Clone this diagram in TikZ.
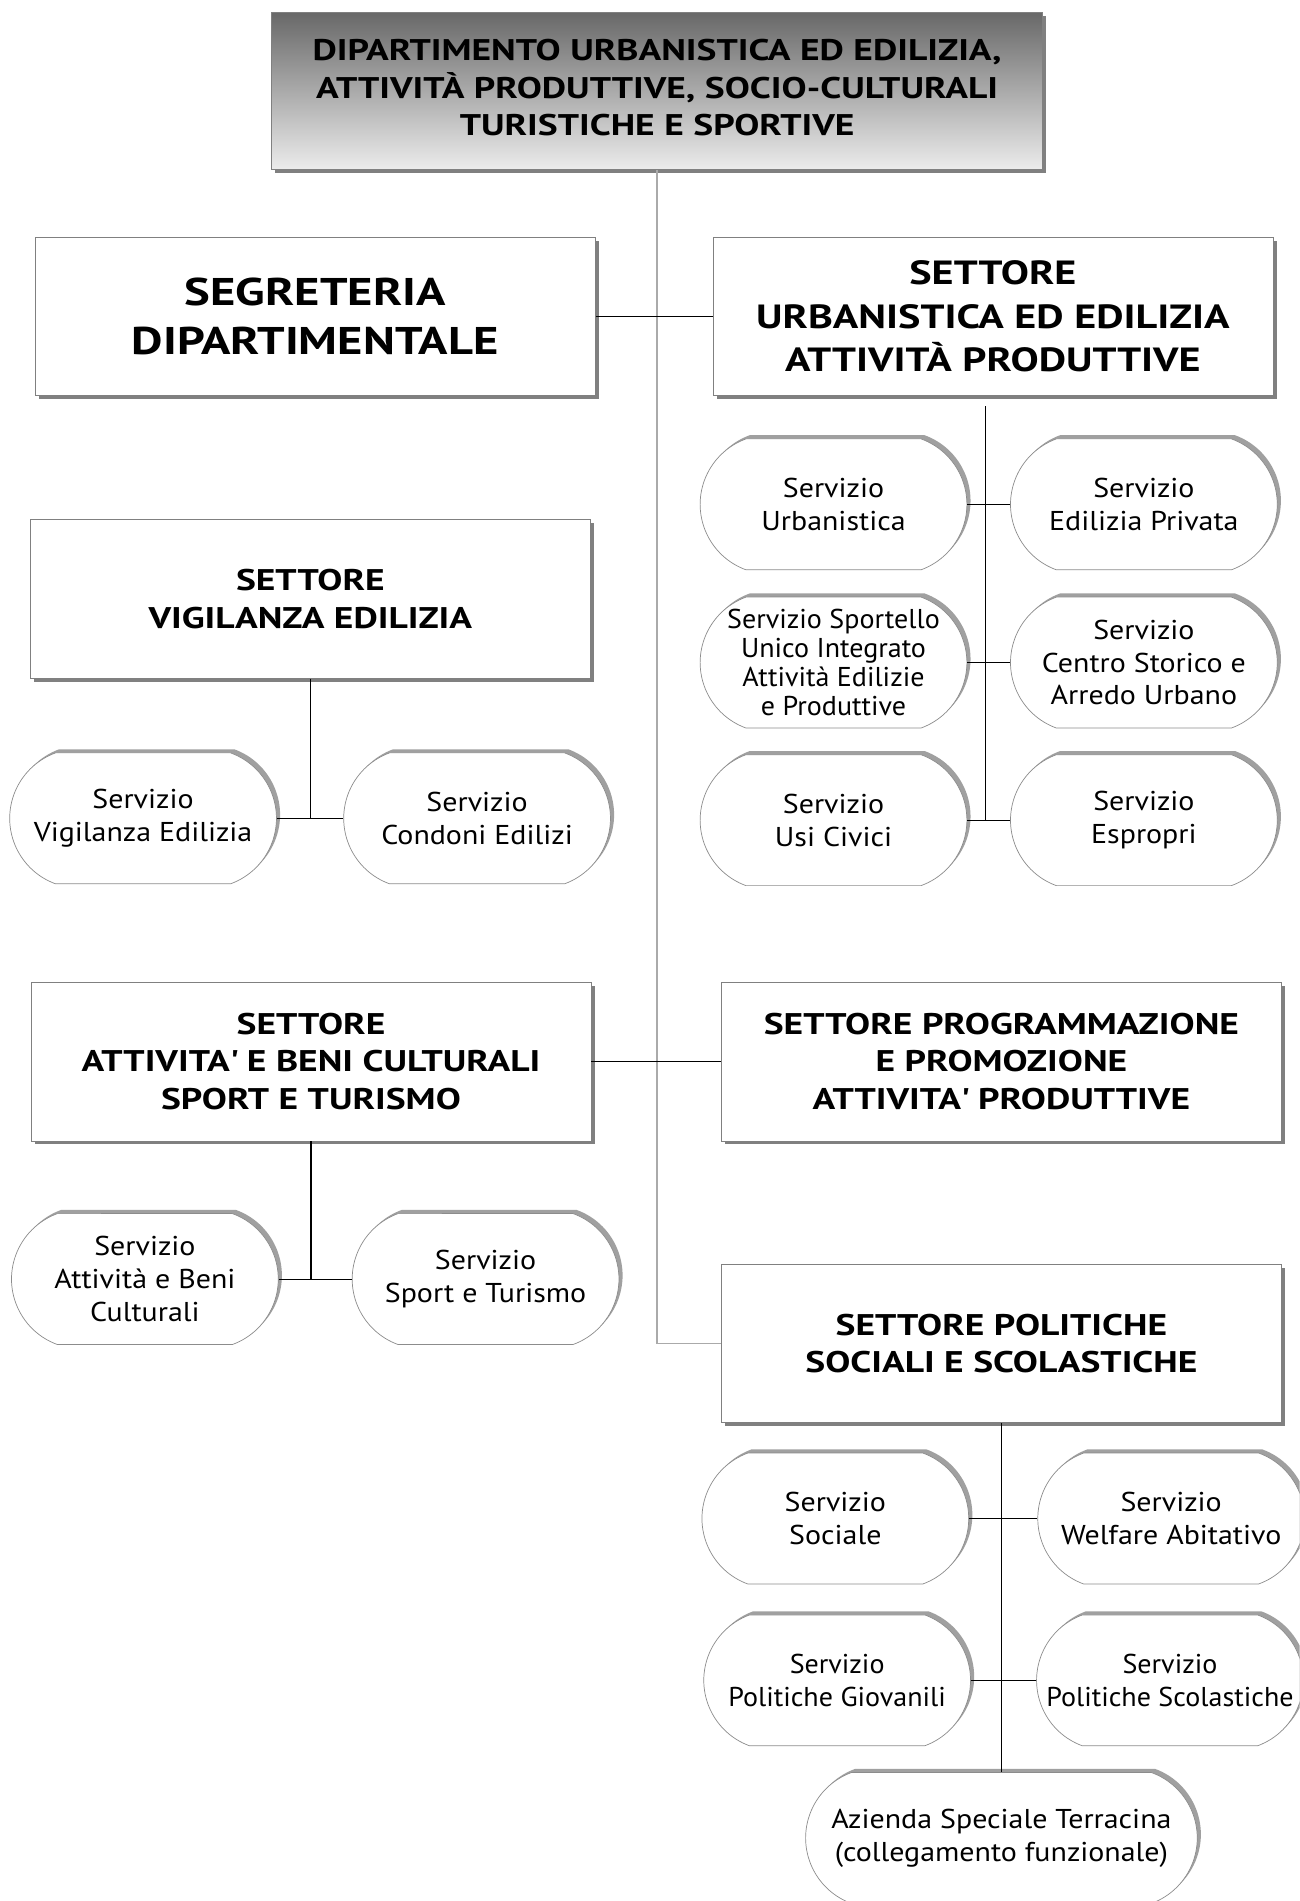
\documentclass[tikz,border=0pt]{standalone}
\usepackage{fontspec}
\setmainfont{PT Sans}[FakeStretch=1.1]
\newfontfamily\boxfont{PT Sans}[FakeStretch=1.257]
\newfontfamily\tightfont{PT Sans}[FakeStretch=1.03]
\usetikzlibrary{shapes.misc,shadows}

\newlength\px
\setlength\px{0.024254cm}
\definecolor{bossdark}{RGB}{104,104,104}
\definecolor{bosslight}{RGB}{236,236,236}
\definecolor{shadowgray}{RGB}{128,128,128}
\definecolor{pillshadow}{RGB}{160,160,160}
\definecolor{mainline}{RGB}{170,170,170}

\tikzset{
  boss/.style={rectangle, draw=gray, top color=bossdark, bottom color=bosslight,
    minimum width=636\px, minimum height=130\px, inner sep=0pt, align=center,
    font=\boxfont\bfseries\fontsize{17}{21.3}\selectfont,
    drop shadow={shadow xshift=3\px, shadow yshift=-3\px, fill=shadowgray, opacity=1}},
  settore/.style={rectangle, draw=gray, fill=white,
    minimum width=462\px, minimum height=131\px, inner sep=0pt, align=center,
    font=\boxfont\bfseries\fontsize{17}{21.3}\selectfont,
    drop shadow={shadow xshift=3\px, shadow yshift=-3\px, fill=shadowgray, opacity=1}},
  servizio/.style={rounded rectangle, rounded rectangle arc length=140,
    draw=gray!90, fill=white, minimum width=220\px, minimum height=108\px,
    inner sep=0pt, align=center, font=\fontsize{15.5}{18.6}\selectfont,
    drop shadow={shadow xshift=3\px, shadow yshift=3\px, fill=pillshadow, opacity=1}},
  link/.style={draw=black, line width=0.6pt},
  trunk/.style={draw=mainline, line width=0.8pt}
}

\begin{document}
\begin{tikzpicture}[x=0.024254cm, y=0.024254cm]
  \useasboundingbox[fill=white] (0,0) rectangle (1072,-1568);
  \clip (0,0) rectangle (1072,-1568);

  % dipartimento e settori
  \node[boss] (dip) at (542,-75) {\raisebox{2\px}{\begin{tabular}{@{}c@{}}DIPARTIMENTO URBANISTICA ED EDILIZIA,\\ATTIVITÀ PRODUTTIVE, SOCIO-CULTURALI\\TURISTICHE E SPORTIVE\end{tabular}}};
  \node[settore, font=\boxfont\bfseries\fontsize{22}{27.5}\selectfont] (seg) at (260,-261) {SEGRETERIA\\DIPARTIMENTALE};
  \node[settore, font=\boxfont\bfseries\fontsize{19.1}{24.6}\selectfont] (urb) at (819,-261) {SETTORE\\URBANISTICA ED EDILIZIA\\ATTIVITÀ PRODUTTIVE};
  \node[settore] (vig) at (256,-494) {SETTORE\\VIGILANZA EDILIZIA};
  \node[settore] (att) at (256.5,-875.5) {SETTORE\\ATTIVITA\textquotesingle{} E BENI CULTURALI\\SPORT E TURISMO};
  \node[settore] (prog) at (826,-875.5) {SETTORE PROGRAMMAZIONE\\E PROMOZIONE\\ATTIVITA\textquotesingle{} PRODUTTIVE};
  \node[settore] (pol) at (826,-1108) {SETTORE POLITICHE\\SOCIALI E SCOLASTICHE};

  % servizi urbanistica
  \node[servizio] (sUrb) at (687.5,-416) {Servizio\\Urbanistica};
  \node[servizio] (sEdi) at (943.5,-416) {Servizio\\Edilizia Privata};
  \node[servizio, font=\tightfont\fontsize{15.5}{16.6}\selectfont] (sSuap) at (687.5,-546.5) {Servizio Sportello\\Unico Integrato\\Attività Edilizie\\e Produttive};
  \node[servizio] (sCen) at (943.5,-546.5) {Servizio\\Centro Storico e\\Arredo Urbano};
  \node[servizio] (sUsi) at (687.5,-676.5) {Servizio\\Usi Civici};
  \node[servizio] (sEsp) at (943.5,-676.5) {Servizio\\Espropri};

  % servizi vigilanza
  \node[servizio] (sVig) at (118,-675) {Servizio\\Vigilanza Edilizia};
  \node[servizio] (sCond) at (393.5,-675) {Servizio\\Condoni Edilizi};

  % servizi attivita
  \node[servizio] (sAtt) at (119.5,-1055) {Servizio\\Attività e Beni\\Culturali};
  \node[servizio] (sSpo) at (400.5,-1055) {Servizio\\Sport e Turismo};

  % servizi politiche
  \node[servizio] (sSoc) at (689,-1252.5) {Servizio\\Sociale};
  \node[servizio] (sWel) at (966,-1252.5) {Servizio\\Welfare Abitativo};
  \node[servizio, font=\tightfont\fontsize{15.5}{18.6}\selectfont] (sGio) at (690.5,-1386) {Servizio\\Politiche Giovanili};
  \node[servizio, font=\tightfont\fontsize{15.5}{18.6}\selectfont] (sScol) at (965,-1386) {Servizio\\Politiche Scolastiche};
  \node[servizio, minimum width=323\px] (az) at (826,-1516) {Azienda Speciale Terracina\\(collegamento funzionale)};

  \coordinate (urbtop) at (813,-335);
  \coordinate (urbbot) at (813,-677);

  % collegamenti
  \draw[trunk] (dip.south) |- (pol.west);
  \draw[link] (seg.east) -- (urb.west);
  \draw[link] (att.east) -- (prog.west);

  \draw[link] (urbtop) -- (urbbot);
  \draw[link] (sUrb.east) -- (sEdi.west);
  \draw[link] (sSuap.east) -- (sCen.west);
  \draw[link] (sUsi.east) -- (sEsp.west);

  \draw[link] (vig.south) -- (vig.south |- sVig.east);
  \draw[link] (sVig.east) -- (sCond.west);

  \draw[link] (att.south) -- (att.south |- sAtt.east);
  \draw[link] (sAtt.east) -- (sSpo.west);

  \draw[link] (pol.south) -- (az.north);
  \draw[link] (sSoc.east) -- (sWel.west);
  \draw[link] (sGio.east) -- (sScol.west);
\end{tikzpicture}
\end{document}
